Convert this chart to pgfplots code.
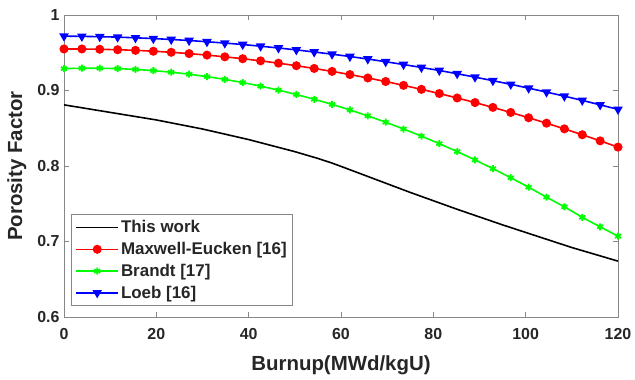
\documentclass[border=0pt]{standalone}
\usepackage{pgfplots}
\pgfplotsset{compat=1.18}
\usepackage{fontspec}
\setmainfont{Liberation Sans}
\definecolor{axgray}{RGB}{135,135,135}
\definecolor{txt}{RGB}{38,38,38}
\definecolor{mred}{RGB}{255,0,0}
\definecolor{mgreen}{RGB}{0,255,0}
\definecolor{mblue}{RGB}{0,0,255}
\begin{document}
\begin{tikzpicture}
\begin{axis}[name=ax, scale only axis, width=554bp, height=302bp,
  xmin=0, xmax=120, ymin=0.6, ymax=1,
  xtick={0,20,40,60,80,100,120},
  xticklabels={0,20,40,60,80,100,120},
  ytick={0.6,0.7,0.8,0.9,1},
  yticklabels={0.6,0.7,0.8,0.9,1},
  ticklabel style={font=\fontsize{16}{16}\selectfont\bfseries, text=txt},
  xticklabel style={yshift=-8bp},
  yticklabel style={xshift=-1bp},
  axis line style={axgray, line width=0.9pt},
  tick style={axgray, line width=0.9pt},
  tick align=inside, major tick length=5bp,
  xlabel={Burnup(MWd/kgU)}, ylabel={Porosity Factor},
  label style={font=\fontsize{20.5}{22}\selectfont\bfseries, text=txt},
  xlabel style={yshift=-9bp},
  ylabel style={yshift=4bp},
  legend style={at={(0.0126,0.036)}, anchor=south west, draw=axgray,
    line width=0.9pt, font=\fontsize{17}{20}\selectfont\bfseries,
    text=txt, inner xsep=4bp, inner ysep=4bp, row sep=4bp},
  legend cell align=left,
  legend image code/.code={\draw[mark repeat=2,mark phase=2,#1]
    plot coordinates {(0bp,0bp)(21bp,0bp)(42bp,0bp)};},
]
\addplot[black, line width=1.6pt] coordinates {
(0,0.881)(5,0.876)(10,0.871)(15,0.866)(20,0.861)(25,0.855)(30,0.849)
(35,0.842)(40,0.835)(45,0.827)(50,0.819)(55,0.810)(58,0.804)(60,0.7995)
(65,0.788)(70,0.7765)(75,0.765)(80,0.754)(85,0.743)(90,0.7325)(95,0.722)
(100,0.712)(105,0.702)(110,0.692)(115,0.683)(120,0.674)};
\addlegendentry{This work}
\addplot[mred, line width=1.6pt, mark=*, mark size=3.7bp, mark options={solid, fill=mred, draw=mred}] coordinates {
(0,0.9550)(3.871,0.9550)(7.742,0.9546)(11.613,0.9540)(15.484,0.9532)
(19.355,0.9520)(23.226,0.9506)(27.097,0.9489)(30.968,0.9469)(34.839,0.9446)
(38.710,0.9421)(42.581,0.9393)(46.452,0.9362)(50.323,0.9328)(54.194,0.9292)
(58.065,0.9253)(61.935,0.9211)(65.806,0.9166)(69.677,0.9119)(73.548,0.9068)
(77.419,0.9015)(81.290,0.8960)(85.161,0.8901)(89.032,0.8840)(92.903,0.8776)
(96.774,0.8709)(100.645,0.8639)(104.516,0.8567)(108.387,0.8492)(112.258,0.8414)
(116.129,0.8333)(120,0.8250)};
\addlegendentry{Maxwell-Eucken [16]}
\addplot[mgreen, line width=1.6pt, mark=asterisk, mark size=3.5bp, mark options={solid, line width=1.8pt}] coordinates {
(0,0.9290)(3.871,0.9295)(7.742,0.9295)(11.613,0.9290)(15.484,0.9279)
(19.355,0.9263)(23.226,0.9242)(27.097,0.9216)(30.968,0.9184)(34.839,0.9147)
(38.710,0.9105)(42.581,0.9058)(46.452,0.9005)(50.323,0.8947)(54.194,0.8884)
(58.065,0.8816)(61.935,0.8743)(65.806,0.8664)(69.677,0.8580)(73.548,0.8490)
(77.419,0.8396)(81.290,0.8296)(85.161,0.8191)(89.032,0.8081)(92.903,0.7965)
(96.774,0.7845)(100.645,0.7719)(104.516,0.7587)(108.387,0.7460)(112.258,0.7320)
(116.129,0.7195)(120,0.7070)};
\addlegendentry{Brandt [17]}
\addplot[mblue, line width=1.6pt, mark=triangle*, mark size=4bp, mark options={solid, rotate=180, fill=mblue, draw=mblue}] coordinates {
(0,0.9720)(3.871,0.9717)(7.742,0.9713)(11.613,0.9707)(15.484,0.9698)
(19.355,0.9688)(23.226,0.9676)(27.097,0.9662)(30.968,0.9646)(34.839,0.9628)
(38.710,0.9609)(42.581,0.9587)(46.452,0.9563)(50.323,0.9538)(54.194,0.9510)
(58.065,0.9481)(61.935,0.9450)(65.806,0.9417)(69.677,0.9381)(73.548,0.9344)
(77.419,0.9305)(81.290,0.9265)(85.161,0.9222)(89.032,0.9177)(92.903,0.9130)
(96.774,0.9082)(100.645,0.9031)(104.516,0.8979)(108.387,0.8925)(112.258,0.8869)
(116.129,0.8810)(120,0.8750)};
\addlegendentry{Loeb [16]}
\end{axis}
\pgfresetboundingbox
\path ([xshift=-64bp,yshift=-63bp]ax.south west) rectangle ([xshift=17bp,yshift=15bp]ax.north east);
\end{tikzpicture}
\end{document}
